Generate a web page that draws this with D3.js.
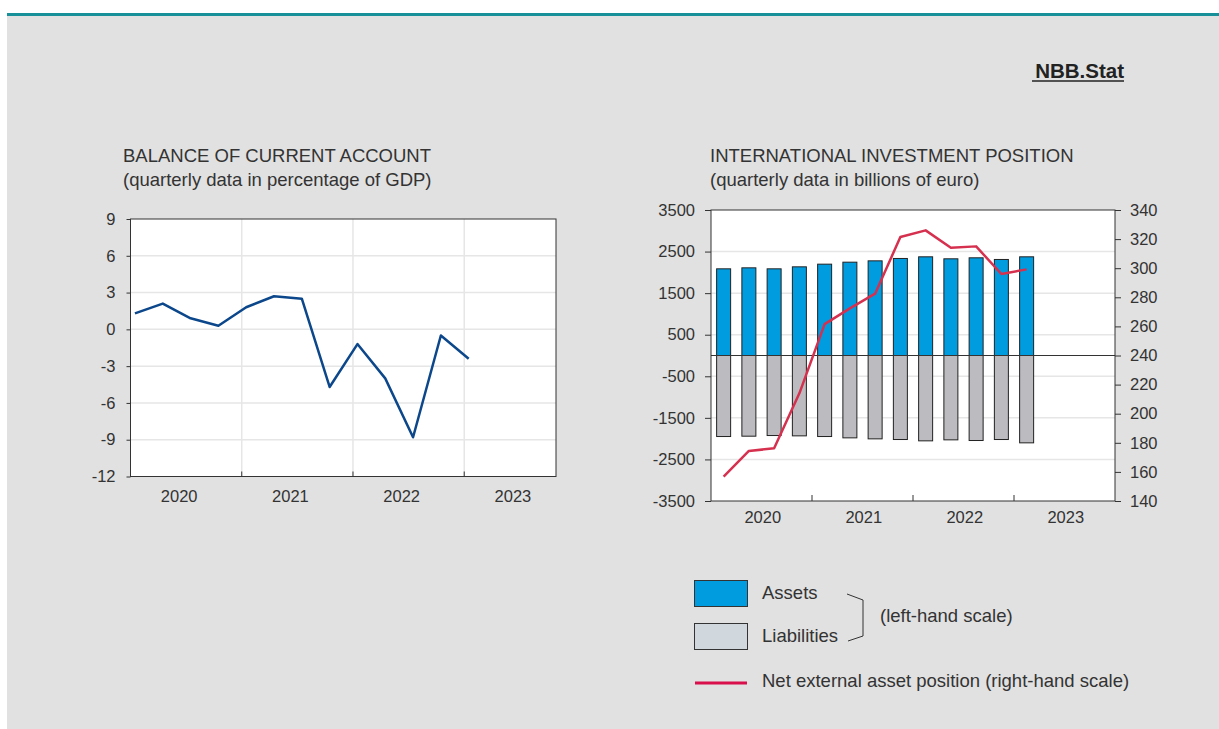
<!DOCTYPE html>
<html>
<head>
<meta charset="utf-8">
<script src="https://cdn.jsdelivr.net/npm/d3@7"></script>
<style>
  body { margin: 0; background: #ffffff; }
  svg text { font-family: "Liberation Sans", Arial, sans-serif; fill: #333333; }
</style>
</head>
<body>
<div id="chart"></div>
<script>
// quarters 2020Q1 .. 2023Q1
const quarters = ["2020Q1","2020Q2","2020Q3","2020Q4","2021Q1","2021Q2","2021Q3","2021Q4",
                  "2022Q1","2022Q2","2022Q3","2022Q4","2023Q1"];
const years = [2020, 2021, 2022, 2023];

// balance of current account, % of GDP
const currentAccount = [1.3, 2.1, 0.9, 0.3, 1.8, 2.7, 2.5, -4.7, -1.2, -4.0, -8.8, -0.5, -2.4];

// international investment position, billions of euro
const assets = [2085, 2109, 2085, 2133, 2197, 2245, 2277, 2334, 2374, 2326, 2350, 2310, 2374];
const liabilities = [-1949, -1941, -1925, -1933, -1949, -1981, -2005, -2021, -2053, -2029, -2045, -2021, -2101];
const netPosition = [156.7, 174.4, 176.2, 214.0, 261.6, 272.4, 282.5, 321.4, 326.0, 314.1, 315.0, 296.0, 299.2];

const leftTicksCA = [9, 6, 3, 0, -3, -6, -9, -12];
const leftTicksIIP = [3500, 2500, 1500, 500, -500, -1500, -2500, -3500];
const rightTicksIIP = [340, 320, 300, 280, 260, 240, 220, 200, 180, 160, 140];

const W = 1219, H = 729;
const tickFont = "16.5px";
const svg = d3.select("#chart").append("svg").attr("width", W).attr("height", H);

// page background + teal rule
svg.append("rect").attr("x", 7).attr("y", 13).attr("width", W - 7).attr("height", H - 13).attr("fill", "#e1e1e1");
svg.append("rect").attr("x", 7).attr("y", 13).attr("width", W - 7).attr("height", 3).attr("fill", "#17909a");

svg.append("text").attr("x", 1124).attr("y", 78).attr("text-anchor", "end")
  .style("font-size", "20.5px").style("font-weight", "bold").style("fill", "#222").text("NBB.Stat");
svg.append("line").attr("x1", 1032).attr("x2", 1124).attr("y1", 81).attr("y2", 81)
  .attr("stroke", "#222").attr("stroke-width", 1.5);

function titles(x, t1, t2) {
  svg.append("text").attr("x", x).attr("y", 162).style("font-size", "18.5px").text(t1);
  svg.append("text").attr("x", x).attr("y", 186).style("font-size", "18.5px").text(t2);
}
titles(123, "BALANCE OF CURRENT ACCOUNT", "(quarterly data in percentage of GDP)");
titles(710, "INTERNATIONAL INVESTMENT POSITION", "(quarterly data in billions of euro)");

function styleAxis(g) {
  g.select(".domain").remove();
  g.selectAll(".tick line").attr("stroke", "#333");
  g.selectAll(".tick text").style("font-size", tickFont).style("fill", "#333");
}
const plain = d => String(d);

// ---------- left chart: current account ----------
const L = { x0: 130.5, x1: 556, y0: 219, y1: 476.5 };
const xL = d3.scaleLinear().domain([0, 15.3]).range([L.x0, L.x1]);
const yL = d3.scaleLinear().domain([-12, 9]).range([L.y1, L.y0]);

const gL = svg.append("g");
gL.append("rect").attr("x", L.x0).attr("y", L.y0).attr("width", L.x1 - L.x0).attr("height", L.y1 - L.y0).attr("fill", "#fff");
gL.selectAll(".hgrid").data(leftTicksCA.filter(d => d > -12 && d < 9)).enter().append("line")
  .attr("x1", L.x0).attr("x2", L.x1).attr("y1", d => yL(d)).attr("y2", d => yL(d))
  .attr("stroke", "#e6e6e6").attr("stroke-width", 1.5);
gL.selectAll(".vgrid").data([4, 8, 12]).enter().append("line")
  .attr("x1", d => xL(d)).attr("x2", d => xL(d)).attr("y1", L.y0).attr("y2", L.y1)
  .attr("stroke", "#e6e6e6").attr("stroke-width", 1.5);
gL.append("rect").attr("x", L.x0).attr("y", L.y0).attr("width", L.x1 - L.x0).attr("height", L.y1 - L.y0)
  .attr("fill", "none").attr("stroke", "#333").attr("stroke-width", 1);
gL.append("g").attr("transform", `translate(${L.x0},0)`)
  .call(d3.axisLeft(yL).tickValues(leftTicksCA).tickFormat(plain).tickSize(4).tickPadding(11)).call(styleAxis);
gL.selectAll(".ytick").data([4, 8, 12]).enter().append("line")
  .attr("x1", d => xL(d)).attr("x2", d => xL(d)).attr("y1", L.y1).attr("y2", L.y1 - 5).attr("stroke", "#333");
gL.selectAll(".ylab").data(years).enter().append("text")
  .attr("x", (d, i) => xL(i * 4 + 1.75)).attr("y", L.y1 + 25).attr("text-anchor", "middle")
  .style("font-size", tickFont).text(d => d);
gL.append("path").datum(currentAccount)
  .attr("d", d3.line().x((d, i) => xL(i + 0.16)).y(d => yL(d)))
  .attr("fill", "none").attr("stroke", "#0b478a").attr("stroke-width", 2.5).attr("stroke-linejoin", "round");

// ---------- right chart: international investment position ----------
const R = { x0: 711, x1: 1115, y0: 210, y1: 501 };
const xR = d3.scaleLinear().domain([0, 16]).range([R.x0, R.x1]);
const yR = d3.scaleLinear().domain([-3500, 3500]).range([R.y1, R.y0]);
const yR2 = d3.scaleLinear().domain([140, 340]).range([R.y1, R.y0]);
const barW = 14;

const gR = svg.append("g");
gR.append("rect").attr("x", R.x0).attr("y", R.y0).attr("width", R.x1 - R.x0).attr("height", R.y1 - R.y0).attr("fill", "#fff");
gR.selectAll(".hgrid").data(leftTicksIIP.filter(d => Math.abs(d) < 3500)).enter().append("line")
  .attr("x1", R.x0).attr("x2", R.x1).attr("y1", d => yR(d)).attr("y2", d => yR(d))
  .attr("stroke", "#e6e6e6").attr("stroke-width", 1.5);

gR.selectAll(".asset").data(assets).enter().append("rect")
  .attr("x", (d, i) => xR(i + 0.5) - barW / 2).attr("y", d => yR(d))
  .attr("width", barW).attr("height", d => yR(0) - yR(d))
  .attr("fill", "#009ce0").attr("stroke", "#222").attr("stroke-width", 1);
gR.selectAll(".liab").data(liabilities).enter().append("rect")
  .attr("x", (d, i) => xR(i + 0.5) - barW / 2).attr("y", yR(0))
  .attr("width", barW).attr("height", d => yR(d) - yR(0))
  .attr("fill", "#bcbcc0").attr("stroke", "#222").attr("stroke-width", 1);

gR.append("line").attr("x1", R.x0).attr("x2", R.x1).attr("y1", yR(0)).attr("y2", yR(0))
  .attr("stroke", "#333").attr("stroke-width", 1);

gR.append("path").datum(netPosition)
  .attr("d", d3.line().x((d, i) => xR(i + 0.5)).y(d => yR2(d)))
  .attr("fill", "none").attr("stroke", "#d6304f").attr("stroke-width", 2.5).attr("stroke-linejoin", "round");

gR.append("rect").attr("x", R.x0).attr("y", R.y0).attr("width", R.x1 - R.x0).attr("height", R.y1 - R.y0)
  .attr("fill", "none").attr("stroke", "#333").attr("stroke-width", 1);
gR.append("g").attr("transform", `translate(${R.x0},0)`)
  .call(d3.axisLeft(yR).tickValues(leftTicksIIP).tickFormat(plain).tickSize(6).tickPadding(10)).call(styleAxis);
gR.append("g").attr("transform", `translate(${R.x1},0)`)
  .call(d3.axisRight(yR2).tickValues(rightTicksIIP).tickFormat(plain).tickSize(6).tickPadding(9)).call(styleAxis);
gR.selectAll(".ytick").data([4, 8, 12]).enter().append("line")
  .attr("x1", d => xR(d)).attr("x2", d => xR(d)).attr("y1", R.y1).attr("y2", R.y1 - 6).attr("stroke", "#333");
gR.selectAll(".ylab").data(years).enter().append("text")
  .attr("x", (d, i) => xR(i * 4 + 2.05)).attr("y", R.y1 + 22).attr("text-anchor", "middle")
  .style("font-size", tickFont).text(d => d);

// ---------- legend ----------
const lg = svg.append("g");
const legFont = "18.5px";
lg.append("rect").attr("x", 694.5).attr("y", 580.5).attr("width", 53).attr("height", 26)
  .attr("fill", "#009ce0").attr("stroke", "#333");
lg.append("rect").attr("x", 694.5).attr("y", 623.5).attr("width", 53).attr("height", 26)
  .attr("fill", "#d0d8de").attr("stroke", "#333");
lg.append("line").attr("x1", 695).attr("x2", 747).attr("y1", 683).attr("y2", 683)
  .attr("stroke", "#d80f4a").attr("stroke-width", 3);
lg.append("text").attr("x", 762).attr("y", 599).style("font-size", legFont).text("Assets");
lg.append("text").attr("x", 762).attr("y", 642).style("font-size", legFont).text("Liabilities");
lg.append("text").attr("x", 880).attr("y", 622).style("font-size", legFont).text("(left-hand scale)");
lg.append("text").attr("x", 762).attr("y", 687).style("font-size", legFont).text("Net external asset position (right-hand scale)");
lg.append("path").attr("d", "M847,594 L863,600 L863,636 L848,641")
  .attr("fill", "none").attr("stroke", "#333").attr("stroke-width", 1);
</script>
</body>
</html>
